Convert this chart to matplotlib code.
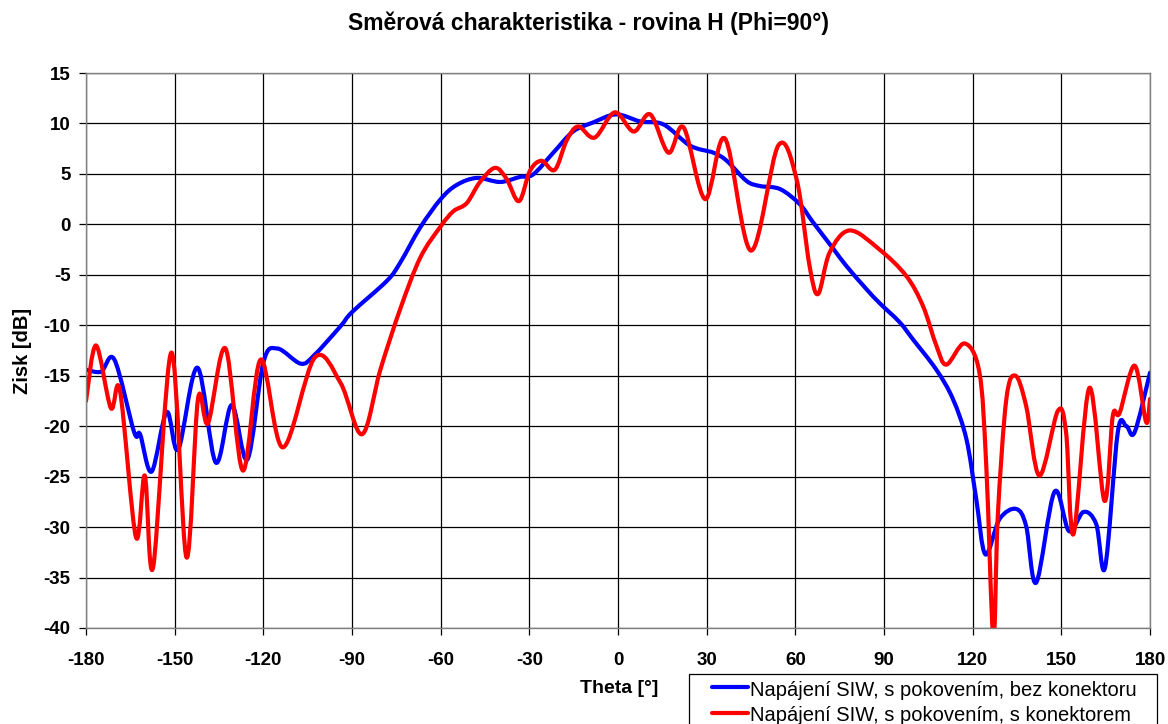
import numpy as np
import matplotlib.pyplot as plt
from matplotlib.path import Path
from matplotlib.patches import PathPatch, Rectangle
from matplotlib.lines import Line2D

plt.rcParams['font.family'] = ['Liberation Sans', 'DejaVu Sans']
plt.rcParams['axes.unicode_minus'] = False

# theta [deg] / gain [dB] - napajeni SIW, s pokovenim, bez konektoru
theta_a = [-180, -174.9, -170.4, -163.7, -161.7, -157.8, -152.7, -148.8, -142.3, -136.1,
           -130.7, -125.4, -120, -115.3, -107.4, -102.9, -93.9, -90, -78.2, -73.7,
           -66.9, -60, -54.6, -47.8, -39.9, -33.2, -28.7, -21.9, -15.2, -8.4,
           -0.6, 7.5, 15.4, 24.4, 32.3, 36.8, 43.5, 48.0, 54.8, 61.5,
           66, 72.8, 77.2, 84, 88.5, 95.3, 99.8, 107.7, 113.3, 117.9,
           121.2, 124.3, 129.1, 134.7, 138.1, 141.5, 147.7, 152.6, 157.5, 161.8,
           164.8, 169.1, 172.0, 174.8, 180]
gain_a = [-14.4, -14.6, -13.4, -20.6, -20.8, -24.5, -18.6, -22.3, -14.2, -23.6,
          -17.9, -23.3, -13.7, -12.3, -13.8, -13.0, -10.1, -8.7, -5.6, -3.8,
          -0.3, 2.5, 3.9, 4.6, 4.2, 4.7, 4.95, 7.1, 9.2, 10.1,
          10.9, 10.2, 9.9, 7.8, 7.1, 6.3, 4.3, 3.8, 3.5, 2.0,
          0.2, -2.4, -4.1, -6.4, -7.8, -9.7, -11.4, -14.4, -17.3, -21.3,
          -27.2, -32.7, -29.2, -28.2, -29.9, -35.5, -26.5, -30.4, -28.5, -29.7,
          -34.0, -20.6, -20.0, -20.6, -14.7]

# theta [deg] / gain [dB] - napajeni SIW, s pokovenim, s konektorem
theta_b = [-180, -176.6, -171.6, -168.5, -163.1, -160.1, -157.3, -151.1, -146.0, -142.1,
           -138.7, -132.8, -126.9, -120.9, -113.4, -102.6, -93.9, -86.6, -80.4, -73.7,
           -66.9, -60, -55.7, -51.2, -46.7, -41.6, -37.7, -33.5, -29.8, -25.9,
           -21.4, -17.4, -13.5, -7.9, -1.1, 5.3, 10.9, 17.1, 22.2, 29.5,
           36.2, 45.0, 54.2, 60.4, 64.8, 67.7, 71.6, 78.4, 88.5, 97.5,
           103.2, 107.7, 111.1, 117.3, 122.3, 124.6, 127.0, 128.5, 131.4, 134.5,
           138.1, 142.6, 148.8, 151.6, 154.1, 159.5, 164.6, 167.4, 169.7, 174.8,
           178.7, 180]
gain_b = [-17.5, -12.0, -18.2, -16.5, -31.0, -24.9, -34.0, -12.7, -33.0, -17.3,
          -19.7, -12.3, -24.4, -13.4, -22.1, -13.2, -15.7, -20.8, -14.4, -8.4,
          -3.3, -0.2, 1.3, 2.1, 4.2, 5.6, 4.5, 2.3, 5.3, 6.3,
          5.4, 8.3, 9.7, 8.6, 11.1, 9.2, 10.9, 7.1, 9.6, 2.5,
          8.5, -2.6, 7.8, 4.5, -4.1, -6.9, -2.8, -0.6, -2.5, -5.1,
          -8.1, -12.0, -13.9, -11.8, -14.7, -23.9, -41.0, -28.9, -17.3, -15.0,
          -18.0, -24.9, -18.5, -20.6, -30.7, -16.2, -27.4, -19.0, -18.7, -14.0,
          -19.6, -17.3]

labels = ["Napájení SIW, s pokovením, bez konektoru",
          "Napájení SIW, s pokovením, s konektorem"]
colors = ["#0000ff", "#ff0000"]

W, H = 1168, 724


def smooth_path(x, y):
    # smoothed line like a spreadsheet chart: bezier segments with 1/6 tangents
    p = np.column_stack([x, y]).astype(float)
    n = len(p)
    verts = [p[0]]
    codes = [Path.MOVETO]
    for i in range(n - 1):
        p0 = p[i - 1] if i > 0 else p[i]
        p3 = p[i + 2] if i + 2 < n else p[i + 1]
        c1 = p[i] + (p[i + 1] - p0) / 6.0
        c2 = p[i + 1] - (p3 - p[i]) / 6.0
        verts += [c1, c2, p[i + 1]]
        codes += [Path.CURVE4] * 3
    return Path(verts, codes)


def fx(px):
    return px / W


def fy(py):
    return 1 - py / H


fig = plt.figure(figsize=(W / 100, H / 100), dpi=100)
ax = fig.add_axes([fx(86), fy(628), (1150 - 86) / W, (628 - 73) / H])

for xs, ys, c in zip([theta_a, theta_b], [gain_a, gain_b], colors):
    patch = PathPatch(smooth_path(xs, ys), facecolor='none', edgecolor=c, lw=3,
                      capstyle='round', joinstyle='round')
    ax.add_patch(patch)

ax.set_xlim(-180, 180)
ax.set_ylim(-40, 15)
ax.set_xticks(np.arange(-180, 181, 30))
ax.set_yticks(np.arange(-40, 16, 5))
ax.grid(True, color='black', lw=0.9)
ax.set_axisbelow(True)
for s in ax.spines.values():
    s.set_color('#808080')
    s.set_linewidth(1.0)
ax.tick_params(direction='out', length=5, width=0.9, color='black', labelsize=13.5)
ax.tick_params(axis='x', pad=12.5)
ax.tick_params(axis='y', pad=6)
for t in ax.get_xticklabels() + ax.get_yticklabels():
    t.set_fontweight('bold')

ax.set_xlabel("Theta [°]", fontsize=14, fontweight='bold')
ax.xaxis.set_label_coords((619 - 86) / (1150 - 86), -(697 - 628) / (628 - 73))
ax.xaxis.label.set_va('bottom')
ax.set_ylabel("Zisk [dB]", fontsize=14.5, fontweight='bold')
ax.yaxis.set_label_coords(-(86 - 13) / (1150 - 86), 0.5)
ax.yaxis.label.set_va('top')

fig.text(fx(589), fy(23), "Směrová charakteristika - rovina H (Phi=90°)",
         ha='center', va='center', fontsize=16.5, fontweight='bold')

# legend box below the plot, running off the bottom edge
fig.patches.append(Rectangle((fx(689), fy(760)), (1157 - 689) / W, (760 - 674) / H,
                             transform=fig.transFigure, facecolor='white',
                             edgecolor='black', lw=0.9))
for i, (lab, c) in enumerate(zip(labels, colors)):
    yl = 687 + 26 * i
    fig.lines.append(Line2D([fx(712), fx(748)], [fy(yl), fy(yl)], color=c, lw=3,
                            solid_capstyle='round', transform=fig.transFigure))
    fig.text(fx(750), fy(696 + 25 * i), lab, ha='left', va='baseline', fontsize=14.5)

fig.savefig("out.png", dpi=100)
